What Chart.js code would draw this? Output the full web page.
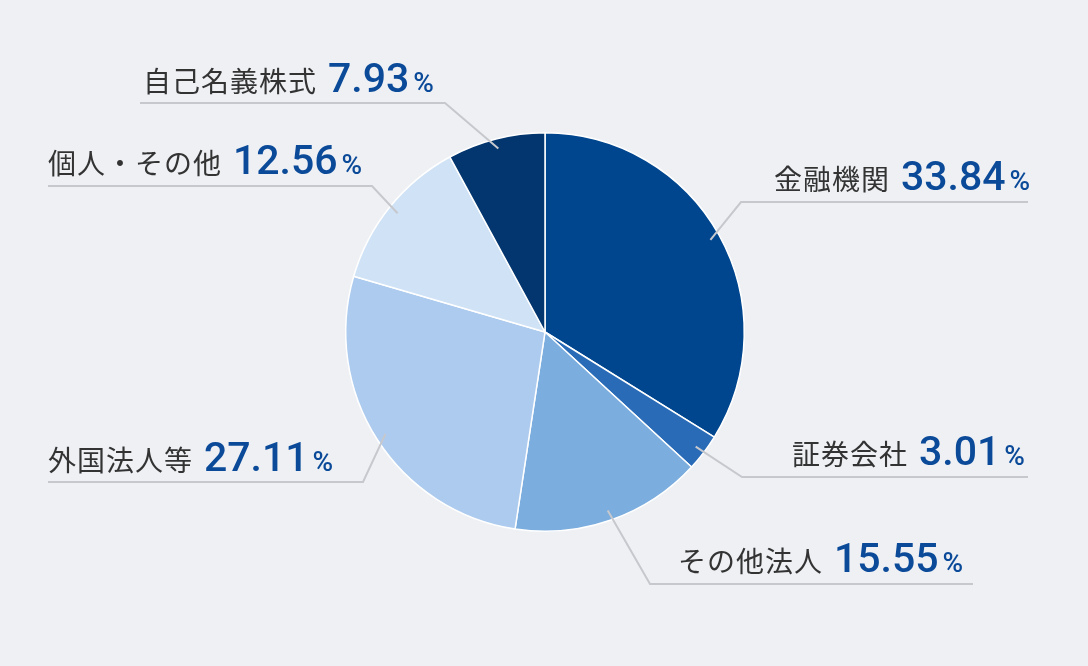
<!DOCTYPE html>
<html lang="ja">
<head>
  <meta charset="UTF-8">
  <title>株主構成</title>
  <style>
    body {
      margin: 0;
      background: #eef0f4;
    }
    #wrap {
      width: 1088px;
      height: 666px;
    }
  </style>
</head>
<body>
  <div id="wrap"><canvas id="pie" width="1088" height="666"></canvas></div>

  <script src="https://cdn.jsdelivr.net/npm/chart.js"></script>
  <script>
    // 株主構成（所有者別）
    const labels = ['金融機関', '証券会社', 'その他法人', '外国法人等', '個人・その他', '自己名義株式'];
    const shares = [33.84, 3.01, 15.55, 27.11, 12.56, 7.93];
    const colors = ['#00468f', '#2a6bb7', '#7badde', '#adcbee', '#cfe2f6', '#03366f'];

    // ラベル位置（テキスト開始x, ベースラインy, 折れ点x, 折れ点y, 線の端x）
    const labelPos = [
      [774, 190, 741, 202, 1028],
      [792, 465, 742, 477, 1028],
      [678, 572, 650, 584, 973],
      [48, 471, 363, 482, 48],
      [48, 174, 372, 186, 48],
      [143, 92, 445, 103, 140]
    ];

    const leaderPlugin = {
      id: 'leaders',
      afterDraw(chart) {
        const ctx = chart.ctx;
        const arcs = chart.getDatasetMeta(0).data;
        ctx.save();
        arcs.forEach((arc, i) => {
          const mid = (arc.startAngle + arc.endAngle) / 2;
          const r = arc.outerRadius * 0.95;
          const ax = arc.x + Math.cos(mid) * r;
          const ay = arc.y + Math.sin(mid) * r;
          const [tx, ty, ex, ey, lx] = labelPos[i];

          ctx.strokeStyle = '#c6c8cd';
          ctx.lineWidth = 2;
          ctx.beginPath();
          ctx.moveTo(ax, ay);
          ctx.lineTo(ex, ey);
          ctx.lineTo(lx, ey);
          ctx.stroke();

          // label text
          ctx.textBaseline = 'alphabetic';
          ctx.textAlign = 'left';
          ctx.fillStyle = '#333333';
          ctx.font = '400 28px "Noto Sans CJK JP"';
          ctx.letterSpacing = '1px';
          ctx.fillText(labels[i], tx, ty);
          let x = tx + ctx.measureText(labels[i]).width + 11;
          ctx.letterSpacing = '0px';

          const num = shares[i].toFixed(2);
          ctx.fillStyle = '#0b4a98';
          ctx.font = '500 41px Roboto';
          ctx.fillText(num, x, ty);
          x += ctx.measureText(num).width + 4;

          ctx.font = '500 28px Roboto';
          ctx.fillText('%', x, ty);
        });
        ctx.restore();
      }
    };

    new Chart(document.getElementById('pie'), {
      type: 'pie',
      data: {
        labels: labels,
        datasets: [{
          data: shares,
          backgroundColor: colors,
          borderColor: '#ffffff',
          borderWidth: 1.5
        }]
      },
      options: {
        responsive: false,
        animation: false,
        layout: {
          padding: { left: 345, right: 343, top: 132, bottom: 134 }
        },
        plugins: {
          legend: { display: false },
          tooltip: { enabled: false }
        }
      },
      plugins: [leaderPlugin]
    });
  </script>
</body>
</html>
